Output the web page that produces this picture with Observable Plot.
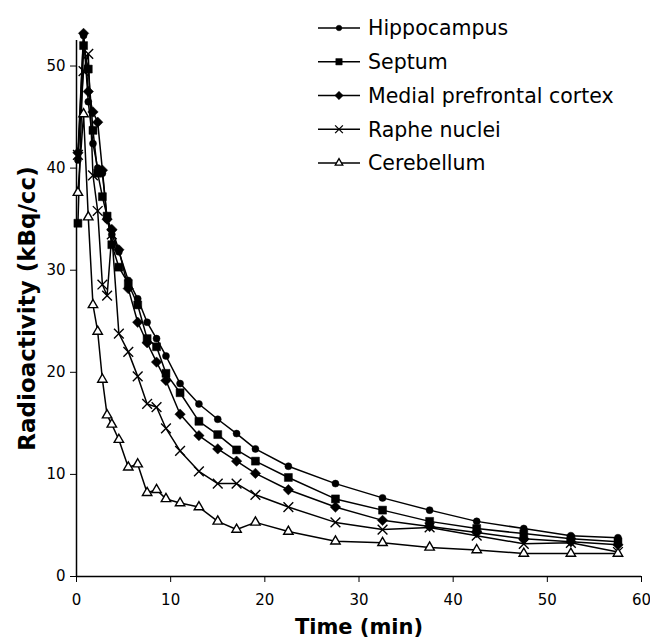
<!DOCTYPE html>
<html>
<head>
<meta charset="utf-8">
<script src="https://cdn.jsdelivr.net/npm/d3@7"></script>
<script src="https://cdn.jsdelivr.net/npm/@observablehq/plot@0.6"></script>
<style>
  body { margin: 0; background: #fff; }
  #wrap { position: relative; width: 650px; height: 638px; font-family: "DejaVu Sans", Verdana, sans-serif; }
  #wrap svg.plot text { fill: #000; }
  [aria-label="x-axis label"] text { font-size: 21px; font-weight: bold; }
  [aria-label="y-axis label"] text { font-size: 23px; font-weight: bold; }
  #legend { position: absolute; left: 0; top: 0; }
</style>
</head>
<body>
<div id="wrap"></div>
<script>
// Frame mid-times (min)
const times = [0.15, 0.75, 1.25, 1.75, 2.25, 2.75, 3.25, 3.75, 4.5, 5.5, 6.5, 7.5, 8.5, 9.5, 11, 13, 15, 17, 19, 22.5, 27.5, 32.5, 37.5, 42.5, 47.5, 52.5, 57.5];

const seriesNames = ["Hippocampus", "Septum", "Medial prefrontal cortex", "Raphe nuclei", "Cerebellum"];

const hippocampus = [40.8, 53.0, 46.5, 42.4, 40.0, 39.5, 35.0, 33.5, 31.8, 29.0, 27.2, 24.9, 23.3, 21.6, 18.9, 16.9, 15.4, 14.0, 12.5, 10.8, 9.1, 7.7, 6.5, 5.4, 4.7, 4.0, 3.8];
const septum      = [34.6, 52.0, 49.7, 43.7, 39.5, 37.2, 35.3, 32.5, 30.3, 28.7, 26.6, 23.3, 22.5, 19.9, 18.0, 15.2, 13.9, 12.4, 11.3, 9.7, 7.6, 6.5, 5.4, 4.7, 4.2, 3.7, 3.4];
const mpfc        = [41.5, 53.2, 47.5, 45.5, 44.5, 39.8, 35.0, 34.0, 32.0, 28.2, 24.9, 22.9, 21.0, 19.2, 15.9, 13.8, 12.5, 11.3, 10.1, 8.5, 6.8, 5.5, 4.9, 4.3, 3.7, 3.4, 3.1];
const raphe       = [41.3, 49.5, 51.2, 39.3, 35.8, 28.6, 27.5, 33.5, 23.8, 22.0, 19.6, 16.9, 16.6, 14.5, 12.3, 10.3, 9.1, 9.1, 8.0, 6.8, 5.3, 4.6, 4.8, 4.0, 3.2, 3.3, 2.4];
const cerebellum  = [37.6, 45.3, 35.2, 26.6, 24.0, 19.3, 15.8, 14.9, 13.4, 10.7, 11.0, 8.2, 8.5, 7.6, 7.2, 6.8, 5.4, 4.6, 5.3, 4.4, 3.45, 3.3, 2.85, 2.6, 2.25, 2.25, 2.25];

const xTicks = [0, 10, 20, 30, 40, 50, 60];
const yTicks = [0, 10, 20, 30, 40, 50];

const seriesValues = [hippocampus, septum, mpfc, raphe, cerebellum];
const symbols = ["circle", "square", "diamond2", "times", "triangle2"];
const fills = ["black", "black", "black", "none", "white"];
const radii = [3.5, 4.5, 4.7, 4.5, 4.5];

const rows = [];
seriesNames.forEach((name, i) => {
  seriesValues[i].forEach((v, j) => rows.push({series: name, time: times[j], value: v}));
});

const marks = [
  Plot.axisX({ticks: xTicks, tickSize: 6, tickPadding: 12, fontSize: 15, label: "Time (min)", labelAnchor: "center", labelArrow: "none", labelOffset: 57}),
  Plot.axisY({ticks: yTicks, tickSize: 6, tickPadding: 5, fontSize: 15, label: "Radioactivity (kBq/cc)", labelAnchor: "center", labelArrow: "none", labelOffset: 58}),
  Plot.ruleX([0], {stroke: "black", strokeWidth: 1.5}),
  Plot.ruleY([0], {stroke: "black", strokeWidth: 1.5}),
  Plot.line(rows, {x: "time", y: "value", z: "series", stroke: "black", strokeWidth: 1.5, clip: false})
];
seriesNames.forEach((name, i) => {
  marks.push(Plot.dot(rows.filter(d => d.series === name), {
    x: "time", y: "value", symbol: () => symbols[i],
    r: radii[i], fill: fills[i], stroke: "black",
    strokeWidth: i >= 3 ? 1.4 : 0.5
  }));
});

const chart = Plot.plot({
  width: 650,
  height: 638,
  marginLeft: 76,
  marginRight: 9,
  marginTop: 40,
  marginBottom: 62,
  style: {fontFamily: "'DejaVu Sans', Verdana, sans-serif", background: "white", color: "black"},
  x: {domain: [0, 60]},
  y: {domain: [0, 52.5]},
  symbol: {type: "identity"},
  marks
});
chart.classList.add("plot");
document.getElementById("wrap").appendChild(chart);

// Legend overlay
const lg = d3.select("#wrap").append("svg")
  .attr("id", "legend").attr("width", 650).attr("height", 200);
const rowY = d3.scalePoint().domain(seriesNames).range([28, 163]);
const symMap = {circle: d3.symbolCircle, square: d3.symbolSquare, diamond2: d3.symbolDiamond2, times: d3.symbolTimes, triangle2: d3.symbolTriangle2};
seriesNames.forEach((name, i) => {
  const g = lg.append("g").attr("transform", `translate(0,${rowY(name)})`);
  g.append("line").attr("x1", 318).attr("x2", 360).attr("y1", 0).attr("y2", 0)
    .attr("stroke", "black").attr("stroke-width", 1.5);
  const r = radii[i] * 0.8;
  g.append("path").attr("transform", "translate(339,0)")
    .attr("d", d3.symbol(symMap[symbols[i]], Math.PI * r * r)())
    .attr("fill", fills[i]).attr("stroke", "black").attr("stroke-width", i >= 3 ? 1.3 : 0.5);
  g.append("text").attr("x", 368).attr("y", 0).attr("dy", "0.36em")
    .attr("font-size", 20.5).attr("font-family", "'DejaVu Sans', Verdana, sans-serif")
    .attr("fill", "black").text(name);
});
</script>
</body>
</html>
